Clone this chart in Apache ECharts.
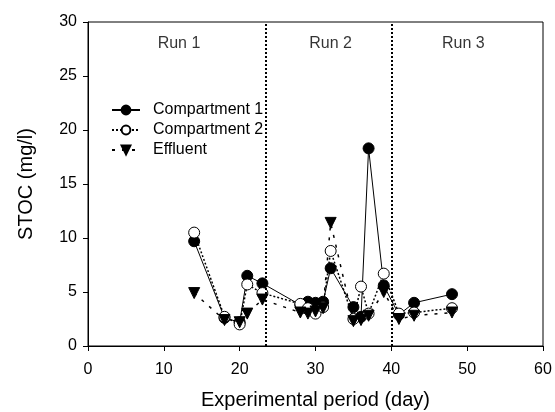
<!DOCTYPE html>
<html>
<head>
<meta charset="utf-8">
<script src="https://cdn.jsdelivr.net/npm/echarts@6/dist/echarts.min.js"></script>
<style>
  html, body { margin: 0; padding: 0; background: #fff; }
  #chart { width: 555px; height: 412px; }
</style>
</head>
<body>
<div id="chart"></div>
<script>
// sampling days (x) and STOC values in mg/l
const days = [14, 18, 20, 21, 23, 28, 29, 30, 31, 32, 35, 36, 37, 39, 41, 43, 48];
const comp1 = [9.7, 2.6, 2.2, 6.5, 5.8, 3.8, 4.1, 4.0, 4.1, 7.2, 3.6, 2.7, 18.3, 5.6, 2.9, 4.0, 4.8];
const comp2 = [10.5, 2.7, 2.0, 5.7, 4.9, 3.9, 3.5, 3.0, 3.6, 8.8, 2.5, 5.5, 3.0, 6.7, 3.0, 3.1, 3.5];
const effluent = [4.9, 2.4, 2.2, 3.0, 4.3, 3.1, 3.0, 3.2, 3.5, 11.4, 2.3, 2.4, 2.8, 5.0, 2.5, 2.8, 3.1];

const runNames = ['Run 1', 'Run 2', 'Run 3'];
const runLabelDays = [12, 32, 49.5];
const runLabelLevel = 28;
const runBoundaries = [23.5, 40];

const FONT = 'Liberation Sans';

function pairs(ys) {
  return days.map((d, i) => [d, ys[i]]);
}

const chart = echarts.init(document.getElementById('chart'), null, { renderer: 'canvas' });

chart.setOption({
  animation: false,
  backgroundColor: '#fff',
  textStyle: { fontFamily: FONT, color: '#000' },
  grid: {
    left: 88, right: 12, top: 22, bottom: 66,
    outerBoundsMode: 'none',
    containLabel: false,
    show: true, borderColor: '#000', borderWidth: 1
  },
  legend: {
    data: ['Compartment 1', 'Compartment 2', 'Effluent'],
    orient: 'vertical',
    left: 106,
    top: 97,
    itemWidth: 28,
    itemHeight: 11,
    itemGap: 4,
    textStyle: { fontFamily: FONT, fontSize: 16, color: '#000', padding: [0, 0, 0, 8] }
  },
  xAxis: {
    type: 'value',
    min: 0, max: 60, interval: 10,
    name: 'Experimental period (day)',
    nameLocation: 'middle',
    nameGap: 44,
    nameTextStyle: { fontFamily: FONT, fontSize: 20, color: '#000' },
    axisLine: { lineStyle: { color: '#000', width: 1 } },
    axisTick: { show: true, length: 5, lineStyle: { color: '#000' } },
    axisLabel: { fontFamily: FONT, fontSize: 16, color: '#000', margin: 16 },
    splitLine: { show: false }
  },
  yAxis: {
    type: 'value',
    min: 0, max: 30, interval: 5,
    name: 'STOC (mg/l)',
    nameLocation: 'middle',
    nameGap: 52,
    nameTextStyle: { fontFamily: FONT, fontSize: 20, color: '#000' },
    axisLine: { show: true, lineStyle: { color: '#000', width: 1 } },
    axisTick: { show: true, length: 5, lineStyle: { color: '#000' } },
    axisLabel: { fontFamily: FONT, fontSize: 16, color: '#000', margin: 11 },
    splitLine: { show: false }
  },
  series: [
    {
      // run separators and run titles
      name: 'runs',
      type: 'scatter',
      symbolSize: 0,
      silent: true,
      data: runLabelDays.map(d => [d, runLabelLevel]),
      label: {
        show: true,
        position: 'inside',
        fontFamily: FONT,
        fontSize: 16,
        color: '#000',
        formatter: p => runNames[p.dataIndex]
      },
      markLine: {
        silent: true,
        symbol: 'none',
        label: { show: false },
        lineStyle: { color: '#000', width: 2, type: [2, 2] },
        data: runBoundaries.map(d => ({ xAxis: d }))
      }
    },
    {
      name: 'Compartment 1',
      type: 'line',
      data: pairs(comp1),
      symbol: 'circle',
      symbolSize: 11,
      lineStyle: { color: '#000', width: 1 },
      itemStyle: { color: '#000', borderColor: '#000', borderWidth: 1 }
    },
    {
      name: 'Compartment 2',
      type: 'line',
      data: pairs(comp2),
      symbol: 'circle',
      symbolSize: 11,
      lineStyle: { color: '#000', width: 1.5, type: [2, 2] },
      itemStyle: { color: '#fff', borderColor: '#000', borderWidth: 1 }
    },
    {
      name: 'Effluent',
      type: 'line',
      data: pairs(effluent),
      symbol: 'triangle',
      symbolRotate: 180,
      symbolSize: 11,
      lineStyle: { color: '#000', width: 1.5, type: [3, 7] },
      itemStyle: { color: '#000', borderColor: '#000', borderWidth: 1 }
    }
  ]
});
</script>
</body>
</html>
